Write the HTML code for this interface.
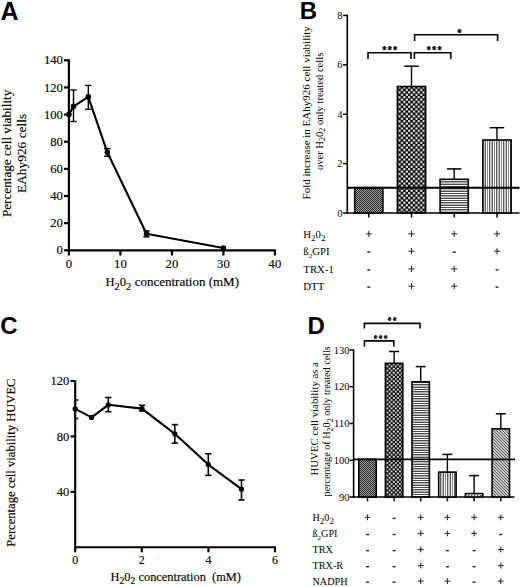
<!DOCTYPE html>
<html><head><meta charset="utf-8"><style>
html,body{margin:0;padding:0;background:#fff;}
body{width:520px;height:587px;overflow:hidden;font-family:"Liberation Serif", serif;}
svg{display:block;}
text.b{stroke:#000;stroke-width:0.15px;paint-order:stroke;}
</style></head><body>
<svg width="520" height="587" viewBox="0 0 520 587">
<rect width="520" height="587" fill="#fff"/>
<text x="0.50" y="19.60" font-family='"Liberation Sans", sans-serif' font-size="25" font-weight="bold" text-anchor="start" >A</text>
<line x1="68.90" y1="59.32" x2="68.90" y2="251.40" stroke="#000" stroke-width="2.2"/>
<line x1="67.80" y1="250.30" x2="275.90" y2="250.30" stroke="#000" stroke-width="2.2"/>
<line x1="64.00" y1="250.30" x2="68.90" y2="250.30" stroke="#000" stroke-width="2.2"/>
<text class="b" x="62.80" y="254.40" font-family='"Liberation Serif", serif' font-size="12.6" font-weight="normal" text-anchor="end" >0</text>
<line x1="64.00" y1="223.16" x2="68.90" y2="223.16" stroke="#000" stroke-width="2.2"/>
<text class="b" x="62.80" y="227.26" font-family='"Liberation Serif", serif' font-size="12.6" font-weight="normal" text-anchor="end" >20</text>
<line x1="64.00" y1="196.02" x2="68.90" y2="196.02" stroke="#000" stroke-width="2.2"/>
<text class="b" x="62.80" y="200.12" font-family='"Liberation Serif", serif' font-size="12.6" font-weight="normal" text-anchor="end" >40</text>
<line x1="64.00" y1="168.88" x2="68.90" y2="168.88" stroke="#000" stroke-width="2.2"/>
<text class="b" x="62.80" y="172.98" font-family='"Liberation Serif", serif' font-size="12.6" font-weight="normal" text-anchor="end" >60</text>
<line x1="64.00" y1="141.74" x2="68.90" y2="141.74" stroke="#000" stroke-width="2.2"/>
<text class="b" x="62.80" y="145.84" font-family='"Liberation Serif", serif' font-size="12.6" font-weight="normal" text-anchor="end" >80</text>
<line x1="64.00" y1="114.60" x2="68.90" y2="114.60" stroke="#000" stroke-width="2.2"/>
<text class="b" x="62.80" y="118.70" font-family='"Liberation Serif", serif' font-size="12.6" font-weight="normal" text-anchor="end" >100</text>
<line x1="64.00" y1="87.46" x2="68.90" y2="87.46" stroke="#000" stroke-width="2.2"/>
<text class="b" x="62.80" y="91.56" font-family='"Liberation Serif", serif' font-size="12.6" font-weight="normal" text-anchor="end" >120</text>
<line x1="64.00" y1="60.32" x2="68.90" y2="60.32" stroke="#000" stroke-width="2.2"/>
<text class="b" x="62.80" y="64.42" font-family='"Liberation Serif", serif' font-size="12.6" font-weight="normal" text-anchor="end" >140</text>
<line x1="68.90" y1="250.30" x2="68.90" y2="255.50" stroke="#000" stroke-width="2.2"/>
<text class="b" x="68.90" y="267.80" font-family='"Liberation Serif", serif' font-size="12.6" font-weight="normal" text-anchor="middle" >0</text>
<line x1="120.40" y1="250.30" x2="120.40" y2="255.50" stroke="#000" stroke-width="2.2"/>
<text class="b" x="120.40" y="267.80" font-family='"Liberation Serif", serif' font-size="12.6" font-weight="normal" text-anchor="middle" >10</text>
<line x1="171.90" y1="250.30" x2="171.90" y2="255.50" stroke="#000" stroke-width="2.2"/>
<text class="b" x="171.90" y="267.80" font-family='"Liberation Serif", serif' font-size="12.6" font-weight="normal" text-anchor="middle" >20</text>
<line x1="223.40" y1="250.30" x2="223.40" y2="255.50" stroke="#000" stroke-width="2.2"/>
<text class="b" x="223.40" y="267.80" font-family='"Liberation Serif", serif' font-size="12.6" font-weight="normal" text-anchor="middle" >30</text>
<line x1="274.90" y1="250.30" x2="274.90" y2="255.50" stroke="#000" stroke-width="2.2"/>
<text class="b" x="274.90" y="267.80" font-family='"Liberation Serif", serif' font-size="12.6" font-weight="normal" text-anchor="middle" >40</text>
<text class="b" x="105.40" y="285.60" font-family='"Liberation Serif", serif' font-size="12.6" font-weight="normal" text-anchor="start" >H<tspan dy="4" font-size="10.6">2</tspan><tspan dy="-4">0</tspan><tspan dy="4" font-size="10.6">2</tspan><tspan dy="-4" font-size="13.0"> concentration (mM)</tspan></text>
<text class="b" transform="translate(11.00,153.40) rotate(-90)" font-family='"Liberation Serif", serif' font-size="13.2" text-anchor="middle">Percentage cell viability</text>
<text class="b" transform="translate(26.40,153.40) rotate(-90)" font-family='"Liberation Serif", serif' font-size="13.4" text-anchor="middle">EAhy926 cells</text>
<line x1="73.50" y1="90.00" x2="73.50" y2="121.50" stroke="#000" stroke-width="1.4"/>
<line x1="70.30" y1="90.00" x2="76.70" y2="90.00" stroke="#000" stroke-width="1.4"/>
<line x1="70.30" y1="121.50" x2="76.70" y2="121.50" stroke="#000" stroke-width="1.4"/>
<line x1="88.30" y1="85.40" x2="88.30" y2="109.30" stroke="#000" stroke-width="1.4"/>
<line x1="85.10" y1="85.40" x2="91.50" y2="85.40" stroke="#000" stroke-width="1.4"/>
<line x1="85.10" y1="109.30" x2="91.50" y2="109.30" stroke="#000" stroke-width="1.4"/>
<line x1="107.30" y1="148.60" x2="107.30" y2="156.30" stroke="#000" stroke-width="1.4"/>
<line x1="104.10" y1="148.60" x2="110.50" y2="148.60" stroke="#000" stroke-width="1.4"/>
<line x1="104.10" y1="156.30" x2="110.50" y2="156.30" stroke="#000" stroke-width="1.4"/>
<line x1="146.50" y1="230.90" x2="146.50" y2="236.90" stroke="#000" stroke-width="1.4"/>
<line x1="143.30" y1="230.90" x2="149.70" y2="230.90" stroke="#000" stroke-width="1.4"/>
<line x1="143.30" y1="236.90" x2="149.70" y2="236.90" stroke="#000" stroke-width="1.4"/>
<polyline points="68.90,114.60 73.50,106.30 88.30,96.90 107.30,152.30 146.50,233.80 223.40,248.00" fill="none" stroke="#000" stroke-width="2.1" stroke-linejoin="round"/>
<circle cx="68.90" cy="114.60" r="2.8" fill="#000"/>
<circle cx="73.50" cy="106.30" r="2.8" fill="#000"/>
<circle cx="88.30" cy="96.90" r="2.8" fill="#000"/>
<circle cx="107.30" cy="152.30" r="2.8" fill="#000"/>
<circle cx="146.50" cy="233.80" r="2.8" fill="#000"/>
<circle cx="223.40" cy="248.00" r="2.8" fill="#000"/>
<text x="299.80" y="18.60" font-family='"Liberation Sans", sans-serif' font-size="24" font-weight="bold" text-anchor="start" >B</text>
<line x1="347.30" y1="14.68" x2="347.30" y2="213.80" stroke="#000" stroke-width="1.6"/>
<line x1="346.50" y1="213.00" x2="519.50" y2="213.00" stroke="#000" stroke-width="1.7"/>
<line x1="343.00" y1="213.00" x2="347.30" y2="213.00" stroke="#000" stroke-width="1.5"/>
<text x="342.60" y="216.60" font-family='"Liberation Serif", serif' font-size="10.5" font-weight="normal" text-anchor="end" >0</text>
<line x1="343.00" y1="163.62" x2="347.30" y2="163.62" stroke="#000" stroke-width="1.5"/>
<text x="342.60" y="167.22" font-family='"Liberation Serif", serif' font-size="10.5" font-weight="normal" text-anchor="end" >2</text>
<line x1="343.00" y1="114.24" x2="347.30" y2="114.24" stroke="#000" stroke-width="1.5"/>
<text x="342.60" y="117.84" font-family='"Liberation Serif", serif' font-size="10.5" font-weight="normal" text-anchor="end" >4</text>
<line x1="343.00" y1="64.86" x2="347.30" y2="64.86" stroke="#000" stroke-width="1.5"/>
<text x="342.60" y="68.46" font-family='"Liberation Serif", serif' font-size="10.5" font-weight="normal" text-anchor="end" >6</text>
<line x1="343.00" y1="15.48" x2="347.30" y2="15.48" stroke="#000" stroke-width="1.5"/>
<text x="342.60" y="19.08" font-family='"Liberation Serif", serif' font-size="10.5" font-weight="normal" text-anchor="end" >8</text>
<text transform="translate(309.50,112.80) rotate(-90)" font-family='"Liberation Serif", serif' font-size="11" text-anchor="middle">Fold increase in EAhy926 cell viability</text>
<text transform="translate(322.70,111.40) rotate(-90)" font-family='"Liberation Serif", serif' font-size="10.6" text-anchor="middle">over H<tspan dy="2.5" font-size="8">2</tspan><tspan dy="-2.5">0</tspan><tspan dy="2.5" font-size="8">2</tspan><tspan dy="-2.5"> only treated cells</tspan></text>
<defs>
<pattern id="fine" width="2" height="2" patternUnits="userSpaceOnUse"><rect width="2" height="2" fill="#a0a0a0"/><rect width="1" height="1" fill="#262626"/><rect x="1" y="1" width="1" height="1" fill="#262626"/></pattern>
<pattern id="chk" width="4.8" height="4.8" patternUnits="userSpaceOnUse"><rect width="4.8" height="4.8" fill="#000"/><rect x="0.15" y="0.15" width="2.1" height="2.1" fill="#fff"/><rect x="2.55" y="2.55" width="2.1" height="2.1" fill="#fff"/></pattern>
<pattern id="chkD" width="4.2" height="4.2" patternUnits="userSpaceOnUse"><rect width="4.2" height="4.2" fill="#000"/><rect x="0.15" y="0.15" width="1.8" height="1.8" fill="#fff"/><rect x="2.25" y="2.25" width="1.8" height="1.8" fill="#fff"/></pattern>
<pattern id="hst" width="10" height="7" patternUnits="userSpaceOnUse"><rect width="10" height="7" fill="#fff"/><rect y="0" width="10" height="2" fill="#b8b8b8"/><rect y="2" width="10" height="1" fill="#4a4a4a"/><rect y="4" width="10" height="1" fill="#4a4a4a"/><rect y="6" width="10" height="1" fill="#4a4a4a"/></pattern>
<pattern id="vst" width="7" height="10" patternUnits="userSpaceOnUse"><rect width="7" height="10" fill="#fff"/><rect x="0" width="2" height="10" fill="#c4c4c4"/><rect x="2" width="1" height="10" fill="#5a5a5a"/><rect x="4" width="1" height="10" fill="#888"/><rect x="6" width="1" height="10" fill="#5a5a5a"/></pattern>
<pattern id="diag" width="3" height="3" patternUnits="userSpaceOnUse"><rect width="3" height="3" fill="#c4c4c4"/><path d="M-1,-1 L4,4 M-1,2 L1,4 M2,-1 L4,1" stroke="#555" stroke-width="0.9"/></pattern>
<pattern id="dots" width="3" height="3" patternUnits="userSpaceOnUse"><rect width="3" height="3" fill="#fff"/><rect width="1.5" height="1.5" fill="#444"/></pattern>
</defs>
<rect x="354.70" y="187.70" width="28.20" height="25.30" fill="url(#fine)" stroke="#000" stroke-width="1.6"/>
<line x1="411.50" y1="66.20" x2="411.50" y2="86.50" stroke="#000" stroke-width="1.4"/>
<line x1="404.20" y1="66.20" x2="418.80" y2="66.20" stroke="#000" stroke-width="1.5"/>
<rect x="397.40" y="86.50" width="28.20" height="126.50" fill="url(#chk)" stroke="#000" stroke-width="1.6"/>
<line x1="454.20" y1="168.90" x2="454.20" y2="179.30" stroke="#000" stroke-width="1.4"/>
<line x1="446.90" y1="168.90" x2="461.50" y2="168.90" stroke="#000" stroke-width="1.5"/>
<rect x="440.10" y="179.30" width="28.20" height="33.70" fill="url(#hst)" stroke="#000" stroke-width="1.6"/>
<line x1="497.00" y1="127.70" x2="497.00" y2="140.00" stroke="#000" stroke-width="1.4"/>
<line x1="489.70" y1="127.70" x2="504.30" y2="127.70" stroke="#000" stroke-width="1.5"/>
<rect x="482.90" y="140.00" width="28.20" height="73.00" fill="url(#vst)" stroke="#000" stroke-width="1.6"/>
<line x1="347.30" y1="187.70" x2="519.50" y2="187.70" stroke="#000" stroke-width="1.9"/>
<line x1="368.80" y1="213.00" x2="368.80" y2="217.60" stroke="#000" stroke-width="1.5"/>
<line x1="411.50" y1="213.00" x2="411.50" y2="217.60" stroke="#000" stroke-width="1.5"/>
<line x1="454.20" y1="213.00" x2="454.20" y2="217.60" stroke="#000" stroke-width="1.5"/>
<line x1="497.00" y1="213.00" x2="497.00" y2="217.60" stroke="#000" stroke-width="1.5"/>
<path d="M368.0,59.0 L368.0,52.7 L411.0,52.7 L411.0,59.0" fill="none" stroke="#000" stroke-width="1.6"/>
<path d="M414.4,59.0 L414.4,52.7 L450.8,52.7 L450.8,59.0" fill="none" stroke="#000" stroke-width="1.6"/>
<path d="M414.6,40.9 L414.6,34.7 L497.6,34.7 L497.6,40.9" fill="none" stroke="#000" stroke-width="1.6"/>
<path d="M384.40,46.00 L384.40,50.20 M382.58,47.05 L386.22,49.15 M382.58,49.15 L386.22,47.05 " stroke="#1a1a1a" stroke-width="1.35" fill="none"/>
<path d="M389.80,46.00 L389.80,50.20 M387.98,47.05 L391.62,49.15 M387.98,49.15 L391.62,47.05 " stroke="#1a1a1a" stroke-width="1.35" fill="none"/>
<path d="M395.20,46.00 L395.20,50.20 M393.38,47.05 L397.02,49.15 M393.38,49.15 L397.02,47.05 " stroke="#1a1a1a" stroke-width="1.35" fill="none"/>
<path d="M428.80,46.00 L428.80,50.20 M426.98,47.05 L430.62,49.15 M426.98,49.15 L430.62,47.05 " stroke="#1a1a1a" stroke-width="1.35" fill="none"/>
<path d="M434.20,46.00 L434.20,50.20 M432.38,47.05 L436.02,49.15 M432.38,49.15 L436.02,47.05 " stroke="#1a1a1a" stroke-width="1.35" fill="none"/>
<path d="M439.60,46.00 L439.60,50.20 M437.78,47.05 L441.42,49.15 M437.78,49.15 L441.42,47.05 " stroke="#1a1a1a" stroke-width="1.35" fill="none"/>
<path d="M459.50,28.90 L459.50,33.10 M457.68,29.95 L461.32,32.05 M457.68,32.05 L461.32,29.95 " stroke="#1a1a1a" stroke-width="1.35" fill="none"/>
<text x="303.30" y="237.70" font-family='"Liberation Serif", serif' font-size="10.8" font-weight="normal" text-anchor="start" >H<tspan dy="3" font-size="9">2</tspan><tspan dy="-3">0</tspan><tspan dy="3" font-size="9">2</tspan><tspan dy="-3"></tspan></text>
<line x1="365.70" y1="233.90" x2="371.90" y2="233.90" stroke="#222" stroke-width="1.0"/>
<line x1="368.80" y1="230.80" x2="368.80" y2="237.00" stroke="#222" stroke-width="1.0"/>
<line x1="408.40" y1="233.90" x2="414.60" y2="233.90" stroke="#222" stroke-width="1.0"/>
<line x1="411.50" y1="230.80" x2="411.50" y2="237.00" stroke="#222" stroke-width="1.0"/>
<line x1="451.10" y1="233.90" x2="457.30" y2="233.90" stroke="#222" stroke-width="1.0"/>
<line x1="454.20" y1="230.80" x2="454.20" y2="237.00" stroke="#222" stroke-width="1.0"/>
<line x1="493.90" y1="233.90" x2="500.10" y2="233.90" stroke="#222" stroke-width="1.0"/>
<line x1="497.00" y1="230.80" x2="497.00" y2="237.00" stroke="#222" stroke-width="1.0"/>
<text x="303.30" y="255.00" font-family='"Liberation Serif", serif' font-size="10.8" font-weight="normal" text-anchor="start" >ß<tspan dy="2.8" font-size="7">2</tspan><tspan dy="-2.8">GPI</tspan></text>
<line x1="367.30" y1="252.20" x2="370.30" y2="252.20" stroke="#222" stroke-width="1.4"/>
<line x1="408.40" y1="251.20" x2="414.60" y2="251.20" stroke="#222" stroke-width="1.0"/>
<line x1="411.50" y1="248.10" x2="411.50" y2="254.30" stroke="#222" stroke-width="1.0"/>
<line x1="452.70" y1="252.20" x2="455.70" y2="252.20" stroke="#222" stroke-width="1.4"/>
<line x1="493.90" y1="251.20" x2="500.10" y2="251.20" stroke="#222" stroke-width="1.0"/>
<line x1="497.00" y1="248.10" x2="497.00" y2="254.30" stroke="#222" stroke-width="1.0"/>
<text x="303.30" y="272.70" font-family='"Liberation Serif", serif' font-size="10.8" font-weight="normal" text-anchor="start" >TRX-1</text>
<line x1="367.30" y1="269.90" x2="370.30" y2="269.90" stroke="#222" stroke-width="1.4"/>
<line x1="408.40" y1="268.90" x2="414.60" y2="268.90" stroke="#222" stroke-width="1.0"/>
<line x1="411.50" y1="265.80" x2="411.50" y2="272.00" stroke="#222" stroke-width="1.0"/>
<line x1="451.10" y1="268.90" x2="457.30" y2="268.90" stroke="#222" stroke-width="1.0"/>
<line x1="454.20" y1="265.80" x2="454.20" y2="272.00" stroke="#222" stroke-width="1.0"/>
<line x1="495.50" y1="269.90" x2="498.50" y2="269.90" stroke="#222" stroke-width="1.4"/>
<text x="303.30" y="290.00" font-family='"Liberation Serif", serif' font-size="10.8" font-weight="normal" text-anchor="start" >DTT</text>
<line x1="367.30" y1="287.20" x2="370.30" y2="287.20" stroke="#222" stroke-width="1.4"/>
<line x1="408.40" y1="286.20" x2="414.60" y2="286.20" stroke="#222" stroke-width="1.0"/>
<line x1="411.50" y1="283.10" x2="411.50" y2="289.30" stroke="#222" stroke-width="1.0"/>
<line x1="451.10" y1="286.20" x2="457.30" y2="286.20" stroke="#222" stroke-width="1.0"/>
<line x1="454.20" y1="283.10" x2="454.20" y2="289.30" stroke="#222" stroke-width="1.0"/>
<line x1="495.50" y1="287.20" x2="498.50" y2="287.20" stroke="#222" stroke-width="1.4"/>
<text x="0.20" y="334.20" font-family='"Liberation Sans", sans-serif' font-size="24" font-weight="bold" text-anchor="start" >C</text>
<line x1="75.20" y1="380.30" x2="75.20" y2="548.20" stroke="#000" stroke-width="2.1"/>
<line x1="74.20" y1="547.20" x2="276.00" y2="547.20" stroke="#000" stroke-width="2.1"/>
<line x1="70.50" y1="491.80" x2="75.20" y2="491.80" stroke="#000" stroke-width="2.1"/>
<text class="b" x="69.20" y="496.10" font-family='"Liberation Serif", serif' font-size="12.5" font-weight="normal" text-anchor="end" >40</text>
<line x1="70.50" y1="436.40" x2="75.20" y2="436.40" stroke="#000" stroke-width="2.1"/>
<text class="b" x="69.20" y="440.70" font-family='"Liberation Serif", serif' font-size="12.5" font-weight="normal" text-anchor="end" >80</text>
<line x1="70.50" y1="381.00" x2="75.20" y2="381.00" stroke="#000" stroke-width="2.1"/>
<text class="b" x="69.20" y="385.30" font-family='"Liberation Serif", serif' font-size="12.5" font-weight="normal" text-anchor="end" >120</text>
<line x1="75.20" y1="547.20" x2="75.20" y2="552.30" stroke="#000" stroke-width="2.1"/>
<text class="b" x="75.20" y="564.20" font-family='"Liberation Serif", serif' font-size="12" font-weight="normal" text-anchor="middle" >0</text>
<line x1="141.80" y1="547.20" x2="141.80" y2="552.30" stroke="#000" stroke-width="2.1"/>
<text class="b" x="141.80" y="564.20" font-family='"Liberation Serif", serif' font-size="12" font-weight="normal" text-anchor="middle" >2</text>
<line x1="208.40" y1="547.20" x2="208.40" y2="552.30" stroke="#000" stroke-width="2.1"/>
<text class="b" x="208.40" y="564.20" font-family='"Liberation Serif", serif' font-size="12" font-weight="normal" text-anchor="middle" >4</text>
<line x1="275.00" y1="547.20" x2="275.00" y2="552.30" stroke="#000" stroke-width="2.1"/>
<text class="b" x="275.00" y="564.20" font-family='"Liberation Serif", serif' font-size="12" font-weight="normal" text-anchor="middle" >6</text>
<text class="b" x="110.60" y="580.80" font-family='"Liberation Serif", serif' font-size="12.4" font-weight="normal" text-anchor="start" xml:space="preserve">H<tspan dy="3.5" font-size="9.6">2</tspan><tspan dy="-3.5">0</tspan><tspan dy="3.5" font-size="9.6">2</tspan><tspan dy="-3.5" font-size="12.4"> concentration  (mM)</tspan></text>
<text class="b" transform="translate(15.30,462.60) rotate(-90)" font-family='"Liberation Serif", serif' font-size="12.6" text-anchor="middle">Percentage cell viability HUVEC</text>
<line x1="75.20" y1="400.00" x2="75.20" y2="418.50" stroke="#000" stroke-width="1.6"/>
<line x1="75.20" y1="400.00" x2="78.30" y2="400.00" stroke="#000" stroke-width="1.6"/>
<line x1="75.20" y1="418.50" x2="78.30" y2="418.50" stroke="#000" stroke-width="1.6"/>
<line x1="108.30" y1="397.50" x2="108.30" y2="411.70" stroke="#000" stroke-width="1.6"/>
<line x1="105.20" y1="397.50" x2="111.40" y2="397.50" stroke="#000" stroke-width="1.6"/>
<line x1="105.20" y1="411.70" x2="111.40" y2="411.70" stroke="#000" stroke-width="1.6"/>
<line x1="142.00" y1="405.30" x2="142.00" y2="411.00" stroke="#000" stroke-width="1.6"/>
<line x1="138.90" y1="405.30" x2="145.10" y2="405.30" stroke="#000" stroke-width="1.6"/>
<line x1="138.90" y1="411.00" x2="145.10" y2="411.00" stroke="#000" stroke-width="1.6"/>
<line x1="174.80" y1="424.60" x2="174.80" y2="443.10" stroke="#000" stroke-width="1.6"/>
<line x1="171.70" y1="424.60" x2="177.90" y2="424.60" stroke="#000" stroke-width="1.6"/>
<line x1="171.70" y1="443.10" x2="177.90" y2="443.10" stroke="#000" stroke-width="1.6"/>
<line x1="208.30" y1="453.80" x2="208.30" y2="475.40" stroke="#000" stroke-width="1.6"/>
<line x1="205.20" y1="453.80" x2="211.40" y2="453.80" stroke="#000" stroke-width="1.6"/>
<line x1="205.20" y1="475.40" x2="211.40" y2="475.40" stroke="#000" stroke-width="1.6"/>
<line x1="241.50" y1="480.00" x2="241.50" y2="500.00" stroke="#000" stroke-width="1.6"/>
<line x1="238.40" y1="480.00" x2="244.60" y2="480.00" stroke="#000" stroke-width="1.6"/>
<line x1="238.40" y1="500.00" x2="244.60" y2="500.00" stroke="#000" stroke-width="1.6"/>
<polyline points="75.20,408.90 91.60,417.40 108.30,404.80 142.00,408.60 174.80,433.80 208.30,464.60 241.50,489.20" fill="none" stroke="#000" stroke-width="2.1" stroke-linejoin="round"/>
<circle cx="75.20" cy="408.90" r="2.6" fill="#000"/>
<circle cx="91.60" cy="417.40" r="2.6" fill="#000"/>
<circle cx="108.30" cy="404.80" r="2.6" fill="#000"/>
<circle cx="142.00" cy="408.60" r="2.6" fill="#000"/>
<circle cx="174.80" cy="433.80" r="2.6" fill="#000"/>
<circle cx="208.30" cy="464.60" r="2.6" fill="#000"/>
<circle cx="241.50" cy="489.20" r="2.6" fill="#000"/>
<text x="307.50" y="334.40" font-family='"Liberation Sans", sans-serif' font-size="24" font-weight="bold" text-anchor="start" >D</text>
<line x1="353.60" y1="349.20" x2="353.60" y2="497.80" stroke="#000" stroke-width="1.6"/>
<line x1="352.80" y1="497.00" x2="514.50" y2="497.00" stroke="#000" stroke-width="1.7"/>
<line x1="349.50" y1="497.00" x2="353.60" y2="497.00" stroke="#000" stroke-width="1.5"/>
<text x="349.40" y="500.50" font-family='"Liberation Serif", serif' font-size="10.5" font-weight="normal" text-anchor="end" >90</text>
<line x1="349.50" y1="460.25" x2="353.60" y2="460.25" stroke="#000" stroke-width="1.5"/>
<text x="349.40" y="463.75" font-family='"Liberation Serif", serif' font-size="10.5" font-weight="normal" text-anchor="end" >100</text>
<line x1="349.50" y1="423.50" x2="353.60" y2="423.50" stroke="#000" stroke-width="1.5"/>
<text x="349.40" y="427.00" font-family='"Liberation Serif", serif' font-size="10.5" font-weight="normal" text-anchor="end" >110</text>
<line x1="349.50" y1="386.75" x2="353.60" y2="386.75" stroke="#000" stroke-width="1.5"/>
<text x="349.40" y="390.25" font-family='"Liberation Serif", serif' font-size="10.5" font-weight="normal" text-anchor="end" >120</text>
<line x1="349.50" y1="350.00" x2="353.60" y2="350.00" stroke="#000" stroke-width="1.5"/>
<text x="349.40" y="353.50" font-family='"Liberation Serif", serif' font-size="10.5" font-weight="normal" text-anchor="end" >130</text>
<text transform="translate(318.40,418.80) rotate(-90)" font-family='"Liberation Serif", serif' font-size="10.8" text-anchor="middle">HUVEC cell viability as a</text>
<text transform="translate(330.20,421.30) rotate(-90)" font-family='"Liberation Serif", serif' font-size="10.2" text-anchor="middle">percentage of H<tspan dy="2.5" font-size="8">2</tspan><tspan dy="-2.5">0</tspan><tspan dy="2.5" font-size="8">2</tspan><tspan dy="-2.5"> only treated cells</tspan></text>
<rect x="358.80" y="459.30" width="17.40" height="37.70" fill="url(#fine)" stroke="#000" stroke-width="1.6"/>
<line x1="394.10" y1="351.50" x2="394.10" y2="363.30" stroke="#000" stroke-width="1.4"/>
<line x1="389.10" y1="351.50" x2="399.10" y2="351.50" stroke="#000" stroke-width="1.5"/>
<rect x="385.40" y="363.30" width="17.40" height="133.70" fill="url(#chkD)" stroke="#000" stroke-width="1.6"/>
<line x1="420.70" y1="366.60" x2="420.70" y2="381.80" stroke="#000" stroke-width="1.4"/>
<line x1="415.70" y1="366.60" x2="425.70" y2="366.60" stroke="#000" stroke-width="1.5"/>
<rect x="412.00" y="381.80" width="17.40" height="115.20" fill="url(#hst)" stroke="#000" stroke-width="1.6"/>
<line x1="447.40" y1="454.40" x2="447.40" y2="472.10" stroke="#000" stroke-width="1.4"/>
<line x1="442.40" y1="454.40" x2="452.40" y2="454.40" stroke="#000" stroke-width="1.5"/>
<rect x="438.70" y="472.10" width="17.40" height="24.90" fill="url(#vst)" stroke="#000" stroke-width="1.6"/>
<line x1="474.10" y1="475.60" x2="474.10" y2="493.60" stroke="#000" stroke-width="1.4"/>
<line x1="469.10" y1="475.60" x2="479.10" y2="475.60" stroke="#000" stroke-width="1.5"/>
<rect x="465.40" y="493.60" width="17.40" height="3.40" fill="url(#dots)" stroke="#000" stroke-width="1.6"/>
<line x1="500.80" y1="413.80" x2="500.80" y2="428.80" stroke="#000" stroke-width="1.4"/>
<line x1="495.80" y1="413.80" x2="505.80" y2="413.80" stroke="#000" stroke-width="1.5"/>
<rect x="492.10" y="428.80" width="17.40" height="68.20" fill="url(#diag)" stroke="#000" stroke-width="1.6"/>
<line x1="353.60" y1="459.30" x2="515.00" y2="459.30" stroke="#000" stroke-width="1.8"/>
<line x1="367.50" y1="497.00" x2="367.50" y2="501.30" stroke="#000" stroke-width="1.5"/>
<line x1="394.10" y1="497.00" x2="394.10" y2="501.30" stroke="#000" stroke-width="1.5"/>
<line x1="420.70" y1="497.00" x2="420.70" y2="501.30" stroke="#000" stroke-width="1.5"/>
<line x1="447.40" y1="497.00" x2="447.40" y2="501.30" stroke="#000" stroke-width="1.5"/>
<line x1="474.10" y1="497.00" x2="474.10" y2="501.30" stroke="#000" stroke-width="1.5"/>
<line x1="500.80" y1="497.00" x2="500.80" y2="501.30" stroke="#000" stroke-width="1.5"/>
<path d="M364.4,346.4 L364.4,340.9 L393.8,340.9 L393.8,346.4" fill="none" stroke="#000" stroke-width="1.6"/>
<path d="M364.4,328.6 L364.4,323.4 L420.0,323.4 L420.0,328.6" fill="none" stroke="#000" stroke-width="1.6"/>
<path d="M375.60,335.05 L375.60,338.95 M373.91,336.02 L377.29,337.98 M373.91,337.98 L377.29,336.02 " stroke="#1a1a1a" stroke-width="1.3" fill="none"/>
<path d="M380.70,335.05 L380.70,338.95 M379.01,336.02 L382.39,337.98 M379.01,337.98 L382.39,336.02 " stroke="#1a1a1a" stroke-width="1.3" fill="none"/>
<path d="M385.80,335.05 L385.80,338.95 M384.11,336.02 L387.49,337.98 M384.11,337.98 L387.49,336.02 " stroke="#1a1a1a" stroke-width="1.3" fill="none"/>
<path d="M389.65,317.05 L389.65,320.95 M387.96,318.02 L391.34,319.98 M387.96,319.98 L391.34,318.02 " stroke="#1a1a1a" stroke-width="1.3" fill="none"/>
<path d="M394.75,317.05 L394.75,320.95 M393.06,318.02 L396.44,319.98 M393.06,319.98 L396.44,318.02 " stroke="#1a1a1a" stroke-width="1.3" fill="none"/>
<text x="312.50" y="520.90" font-family='"Liberation Serif", serif' font-size="10.2" font-weight="normal" text-anchor="start" >H<tspan dy="3" font-size="9">2</tspan><tspan dy="-3">0</tspan><tspan dy="3" font-size="9">2</tspan><tspan dy="-3"></tspan></text>
<line x1="364.60" y1="517.30" x2="370.40" y2="517.30" stroke="#222" stroke-width="1.0"/>
<line x1="367.50" y1="514.40" x2="367.50" y2="520.20" stroke="#222" stroke-width="1.0"/>
<line x1="392.60" y1="518.40" x2="395.60" y2="518.40" stroke="#222" stroke-width="1.4"/>
<line x1="417.80" y1="517.30" x2="423.60" y2="517.30" stroke="#222" stroke-width="1.0"/>
<line x1="420.70" y1="514.40" x2="420.70" y2="520.20" stroke="#222" stroke-width="1.0"/>
<line x1="444.50" y1="517.30" x2="450.30" y2="517.30" stroke="#222" stroke-width="1.0"/>
<line x1="447.40" y1="514.40" x2="447.40" y2="520.20" stroke="#222" stroke-width="1.0"/>
<line x1="471.20" y1="517.30" x2="477.00" y2="517.30" stroke="#222" stroke-width="1.0"/>
<line x1="474.10" y1="514.40" x2="474.10" y2="520.20" stroke="#222" stroke-width="1.0"/>
<line x1="497.90" y1="517.30" x2="503.70" y2="517.30" stroke="#222" stroke-width="1.0"/>
<line x1="500.80" y1="514.40" x2="500.80" y2="520.20" stroke="#222" stroke-width="1.0"/>
<text x="312.50" y="537.00" font-family='"Liberation Serif", serif' font-size="10.2" font-weight="normal" text-anchor="start" >ß<tspan dy="2.8" font-size="7">2</tspan><tspan dy="-2.8">GPI</tspan></text>
<line x1="366.00" y1="534.50" x2="369.00" y2="534.50" stroke="#222" stroke-width="1.4"/>
<line x1="392.60" y1="534.50" x2="395.60" y2="534.50" stroke="#222" stroke-width="1.4"/>
<line x1="417.80" y1="533.40" x2="423.60" y2="533.40" stroke="#222" stroke-width="1.0"/>
<line x1="420.70" y1="530.50" x2="420.70" y2="536.30" stroke="#222" stroke-width="1.0"/>
<line x1="444.50" y1="533.40" x2="450.30" y2="533.40" stroke="#222" stroke-width="1.0"/>
<line x1="447.40" y1="530.50" x2="447.40" y2="536.30" stroke="#222" stroke-width="1.0"/>
<line x1="471.20" y1="533.40" x2="477.00" y2="533.40" stroke="#222" stroke-width="1.0"/>
<line x1="474.10" y1="530.50" x2="474.10" y2="536.30" stroke="#222" stroke-width="1.0"/>
<line x1="499.30" y1="534.50" x2="502.30" y2="534.50" stroke="#222" stroke-width="1.4"/>
<text x="312.50" y="553.10" font-family='"Liberation Serif", serif' font-size="10.2" font-weight="normal" text-anchor="start" >TRX</text>
<line x1="366.00" y1="550.60" x2="369.00" y2="550.60" stroke="#222" stroke-width="1.4"/>
<line x1="392.60" y1="550.60" x2="395.60" y2="550.60" stroke="#222" stroke-width="1.4"/>
<line x1="417.80" y1="549.50" x2="423.60" y2="549.50" stroke="#222" stroke-width="1.0"/>
<line x1="420.70" y1="546.60" x2="420.70" y2="552.40" stroke="#222" stroke-width="1.0"/>
<line x1="445.90" y1="550.60" x2="448.90" y2="550.60" stroke="#222" stroke-width="1.4"/>
<line x1="472.60" y1="550.60" x2="475.60" y2="550.60" stroke="#222" stroke-width="1.4"/>
<line x1="497.90" y1="549.50" x2="503.70" y2="549.50" stroke="#222" stroke-width="1.0"/>
<line x1="500.80" y1="546.60" x2="500.80" y2="552.40" stroke="#222" stroke-width="1.0"/>
<text x="312.50" y="569.20" font-family='"Liberation Serif", serif' font-size="10.2" font-weight="normal" text-anchor="start" >TRX-R</text>
<line x1="366.00" y1="566.70" x2="369.00" y2="566.70" stroke="#222" stroke-width="1.4"/>
<line x1="392.60" y1="566.70" x2="395.60" y2="566.70" stroke="#222" stroke-width="1.4"/>
<line x1="417.80" y1="565.60" x2="423.60" y2="565.60" stroke="#222" stroke-width="1.0"/>
<line x1="420.70" y1="562.70" x2="420.70" y2="568.50" stroke="#222" stroke-width="1.0"/>
<line x1="445.90" y1="566.70" x2="448.90" y2="566.70" stroke="#222" stroke-width="1.4"/>
<line x1="472.60" y1="566.70" x2="475.60" y2="566.70" stroke="#222" stroke-width="1.4"/>
<line x1="497.90" y1="565.60" x2="503.70" y2="565.60" stroke="#222" stroke-width="1.0"/>
<line x1="500.80" y1="562.70" x2="500.80" y2="568.50" stroke="#222" stroke-width="1.0"/>
<text x="312.50" y="584.70" font-family='"Liberation Serif", serif' font-size="10.2" font-weight="normal" text-anchor="start" >NADPH</text>
<line x1="366.00" y1="582.20" x2="369.00" y2="582.20" stroke="#222" stroke-width="1.4"/>
<line x1="392.60" y1="582.20" x2="395.60" y2="582.20" stroke="#222" stroke-width="1.4"/>
<line x1="417.80" y1="581.10" x2="423.60" y2="581.10" stroke="#222" stroke-width="1.0"/>
<line x1="420.70" y1="578.20" x2="420.70" y2="584.00" stroke="#222" stroke-width="1.0"/>
<line x1="444.50" y1="581.10" x2="450.30" y2="581.10" stroke="#222" stroke-width="1.0"/>
<line x1="447.40" y1="578.20" x2="447.40" y2="584.00" stroke="#222" stroke-width="1.0"/>
<line x1="472.60" y1="582.20" x2="475.60" y2="582.20" stroke="#222" stroke-width="1.4"/>
<line x1="497.90" y1="581.10" x2="503.70" y2="581.10" stroke="#222" stroke-width="1.0"/>
<line x1="500.80" y1="578.20" x2="500.80" y2="584.00" stroke="#222" stroke-width="1.0"/>
</svg>
</body></html>
